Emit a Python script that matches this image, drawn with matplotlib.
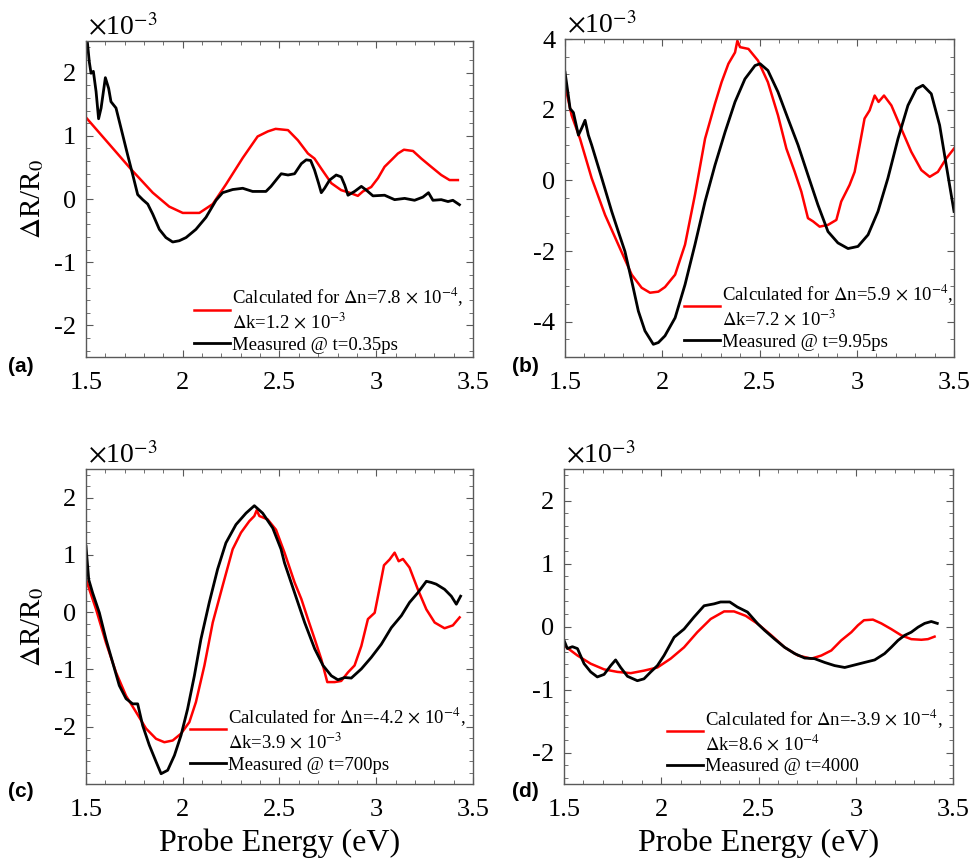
import matplotlib
matplotlib.use("Agg")
import matplotlib.pyplot as plt
from matplotlib.ticker import MultipleLocator, FuncFormatter, FormatStrFormatter
import numpy as np

plt.rcParams["font.family"] = ["Liberation Serif", "DejaVu Serif"]
plt.rcParams["mathtext.fontset"] = "stix"
plt.rcParams["axes.unicode_minus"] = False

# ---- data, dR/R0 in units of 1e-3 ----
a_calc_e = [1.5, 1.733, 1.845, 1.93, 2.0, 2.086, 2.155, 2.223, 2.31, 2.387, 2.44, 2.48, 2.544, 2.595,
            2.647, 2.681, 2.716, 2.768, 2.819, 2.862, 2.905, 2.931, 2.974, 3.009, 3.043, 3.086, 3.112,
            3.143, 3.19, 3.233, 3.284, 3.336, 3.379, 3.422]
a_calc_r = [1.29, 0.47, 0.10, -0.12, -0.22, -0.22, -0.08, 0.23, 0.65, 0.99, 1.07, 1.11, 1.09, 0.93,
            0.72, 0.64, 0.48, 0.25, 0.14, 0.10, 0.05, 0.12, 0.19, 0.33, 0.51, 0.64, 0.72,
            0.78, 0.76, 0.64, 0.51, 0.38, 0.30, 0.30]
a_meas_e = [1.5, 1.517, 1.526, 1.538, 1.552, 1.565, 1.578, 1.60, 1.617, 1.629, 1.655, 1.681, 1.715,
            1.741, 1.767, 1.793, 1.819, 1.845, 1.879, 1.913, 1.948, 1.982, 2.017, 2.068, 2.12, 2.172,
            2.206, 2.258, 2.31, 2.361, 2.43, 2.456, 2.49, 2.509, 2.544, 2.578, 2.613, 2.638, 2.661,
            2.681, 2.702, 2.716, 2.733, 2.759, 2.793, 2.819, 2.837, 2.854, 2.888, 2.923, 2.949, 2.983,
            3.043, 3.095, 3.147, 3.198, 3.241, 3.27, 3.293, 3.336, 3.371, 3.396, 3.43]
a_meas_r = [2.7, 2.17, 1.99, 2.02, 1.70, 1.27, 1.44, 1.92, 1.75, 1.54, 1.44, 1.12, 0.70,
            0.39, 0.07, -0.01, -0.08, -0.24, -0.48, -0.61, -0.68, -0.66, -0.61, -0.48, -0.29, -0.02,
            0.10, 0.15, 0.17, 0.12, 0.12, 0.20, 0.33, 0.40, 0.38, 0.40, 0.56, 0.62, 0.61,
            0.46, 0.25, 0.10, 0.17, 0.30, 0.38, 0.35, 0.22, 0.06, 0.12, 0.20, 0.14, 0.05,
            0.06, -0.01, 0.01, -0.02, 0.03, 0.10, -0.02, -0.01, -0.04, -0.02, -0.09]

b_calc_e = [1.5, 1.534, 1.577, 1.637, 1.706, 1.774, 1.843, 1.894, 1.937, 1.98, 2.014, 2.066, 2.117,
            2.168, 2.22, 2.271, 2.305, 2.34, 2.374, 2.386, 2.40, 2.443, 2.492, 2.543, 2.595, 2.638,
            2.681, 2.715, 2.749, 2.775, 2.809, 2.852, 2.895, 2.92, 2.963, 2.989, 3.015, 3.04, 3.066,
            3.092, 3.112, 3.14, 3.178, 3.229, 3.28, 3.332, 3.375, 3.417, 3.46, 3.5]
b_calc_r = [2.69, 1.84, 1.18, 0.06, -0.98, -1.82, -2.67, -3.04, -3.18, -3.15, -3.02, -2.67, -1.82,
            -0.41, 1.18, 2.17, 2.78, 3.30, 3.62, 3.95, 3.77, 3.72, 3.39, 2.78, 1.84, 0.90,
            0.24, -0.32, -1.07, -1.16, -1.31, -1.26, -1.12, -0.60, -0.13, 0.24, 1.0, 1.75, 1.98,
            2.40, 2.22, 2.40, 2.12, 1.46, 0.81, 0.29, 0.10, 0.24, 0.62, 0.90]
b_meas_e = [1.5, 1.517, 1.526, 1.543, 1.569, 1.586, 1.603, 1.62, 1.637, 1.689, 1.74, 1.774, 1.808,
            1.843, 1.877, 1.911, 1.954, 1.98, 2.014, 2.066, 2.117, 2.168, 2.22, 2.271, 2.323, 2.374,
            2.425, 2.477, 2.503, 2.543, 2.595, 2.646, 2.698, 2.749, 2.80, 2.852, 2.903, 2.955, 3.006,
            3.058, 3.109, 3.16, 3.212, 3.263, 3.306, 3.34, 3.383, 3.426, 3.46, 3.5]
b_meas_r = [3.06, 2.40, 2.03, 1.92, 1.28, 1.48, 1.70, 1.28, 1.0, 0.06, -0.88, -1.45, -2.01,
            -2.85, -3.70, -4.26, -4.64, -4.59, -4.40, -3.89, -2.95, -1.82, -0.60, 0.43, 1.37, 2.22,
            2.87, 3.25, 3.30, 3.11, 2.50, 1.75, 1.0, 0.15, -0.69, -1.45, -1.77, -1.93, -1.87,
            -1.54, -0.88, 0.06, 1.18, 2.12, 2.59, 2.69, 2.45, 1.56, 0.43, -0.88]

c_calc_e = [1.5, 1.552, 1.603, 1.655, 1.707, 1.758, 1.81, 1.862, 1.905, 1.948, 1.991, 2.034, 2.068,
            2.112, 2.155, 2.206, 2.258, 2.301, 2.344, 2.37, 2.382, 2.396, 2.439, 2.482, 2.526, 2.578,
            2.613, 2.647, 2.682, 2.716, 2.747, 2.785, 2.819, 2.854, 2.888, 2.923, 2.957, 2.992, 3.009,
            3.04, 3.069, 3.095, 3.116, 3.138, 3.172, 3.215, 3.259, 3.302, 3.353, 3.396, 3.431]
c_calc_r = [0.57, 0.05, -0.53, -1.05, -1.46, -1.74, -2.03, -2.21, -2.27, -2.24, -2.12, -1.92, -1.57,
            -0.93, -0.18, 0.46, 1.10, 1.39, 1.59, 1.68, 1.78, 1.68, 1.62, 1.44, 1.04, 0.52,
            0.23, -0.12, -0.47, -0.82, -1.22, -1.22, -1.20, -1.05, -0.93, -0.59, -0.12, -0.01, 0.28,
            0.82, 0.92, 1.04, 0.89, 0.93, 0.78, 0.40, 0.05, -0.18, -0.28, -0.23, -0.09]
c_meas_e = [1.5, 1.514, 1.534, 1.569, 1.603, 1.638, 1.672, 1.707, 1.741, 1.767, 1.793, 1.827, 1.862,
            1.888, 1.922, 1.957, 1.991, 2.025, 2.06, 2.094, 2.137, 2.18, 2.223, 2.275, 2.327, 2.37,
            2.413, 2.465, 2.508, 2.526, 2.578, 2.63, 2.682, 2.725, 2.768, 2.802, 2.837, 2.871, 2.923,
            2.974, 3.026, 3.078, 3.13, 3.172, 3.215, 3.259, 3.284, 3.31, 3.353, 3.388, 3.414, 3.436]
c_meas_r = [1.15, 0.57, 0.34, -0.01, -0.47, -0.88, -1.28, -1.51, -1.60, -1.60, -1.98, -2.32, -2.61,
            -2.82, -2.76, -2.50, -2.15, -1.69, -1.11, -0.47, 0.17, 0.75, 1.21, 1.53, 1.73, 1.86,
            1.73, 1.47, 1.10, 0.86, 0.34, -0.18, -0.64, -0.93, -1.11, -1.18, -1.14, -1.15, -0.99,
            -0.79, -0.56, -0.27, -0.06, 0.17, 0.34, 0.54, 0.52, 0.49, 0.40, 0.28, 0.14, 0.28]

d_calc_e = [1.5, 1.569, 1.637, 1.706, 1.774, 1.843, 1.911, 1.98, 2.048, 2.117, 2.185, 2.254, 2.323,
            2.374, 2.434, 2.497, 2.566, 2.634, 2.703, 2.771, 2.823, 2.874, 2.925, 2.977, 3.011, 3.042,
            3.088, 3.131, 3.182, 3.234, 3.285, 3.337, 3.371, 3.405]
d_calc_r = [-0.30, -0.46, -0.59, -0.68, -0.72, -0.74, -0.70, -0.65, -0.51, -0.33, -0.09, 0.12, 0.24,
            0.24, 0.17, 0.04, -0.14, -0.33, -0.46, -0.51, -0.46, -0.38, -0.22, -0.09, 0.02, 0.10,
            0.11, 0.05, -0.04, -0.14, -0.20, -0.21, -0.20, -0.16]
d_meas_e = [1.5, 1.517, 1.543, 1.569, 1.603, 1.637, 1.671, 1.706, 1.74, 1.765, 1.791, 1.826, 1.877,
            1.911, 1.946, 1.98, 2.014, 2.066, 2.117, 2.168, 2.22, 2.271, 2.305, 2.352, 2.391, 2.443,
            2.497, 2.531, 2.583, 2.634, 2.686, 2.737, 2.788, 2.84, 2.891, 2.943, 2.994, 3.045, 3.097,
            3.148, 3.182, 3.217, 3.251, 3.285, 3.32, 3.354, 3.388, 3.419]
d_meas_r = [-0.22, -0.35, -0.32, -0.35, -0.59, -0.72, -0.80, -0.76, -0.62, -0.53, -0.65, -0.79, -0.86,
            -0.83, -0.72, -0.62, -0.46, -0.17, -0.04, 0.15, 0.33, 0.36, 0.39, 0.39, 0.31, 0.23,
            0.04, -0.06, -0.20, -0.33, -0.43, -0.50, -0.51, -0.57, -0.62, -0.65, -0.61, -0.57, -0.53,
            -0.43, -0.33, -0.22, -0.14, -0.09, -0.01, 0.05, 0.08, 0.05]

calc_labels = ["Calculated for $\\Delta$n=7.8$\\,\\times\\,$10$^{-4}$,\n$\\Delta$k=1.2$\\,\\times\\,$10$^{-3}$",
               "Calculated for $\\Delta$n=5.9$\\,\\times\\,$10$^{-4}$,\n$\\Delta$k=7.2$\\,\\times\\,$10$^{-3}$",
               "Calculated for $\\Delta$n=-4.2$\\,\\times\\,$10$^{-4}$,\n$\\Delta$k=3.9$\\,\\times\\,$10$^{-3}$",
               "Calculated for $\\Delta$n=-3.9$\\,\\times\\,$10$^{-4}$,\n$\\Delta$k=8.6$\\,\\times\\,$10$^{-4}$"]
meas_labels = ["Measured @ t=0.35ps", "Measured @ t=9.95ps", "Measured @ t=700ps", "Measured @ t=4000"]
panel_tags = ["(a)", "(b)", "(c)", "(d)"]
ylims = [(-2.5, 2.5), (-5, 4), (-3, 2.5), (-2.5, 2.5)]
yticks = [[-2, -1, 0, 1, 2], [-4, -2, 0, 2, 4], [-2, -1, 0, 1, 2], [-2, -1, 0, 1, 2]]
yminor = [0.2, 0.5, 0.2, 0.2]

series = [(a_calc_e, a_calc_r, a_meas_e, a_meas_r),
          (b_calc_e, b_calc_r, b_meas_e, b_meas_r),
          (c_calc_e, c_calc_r, c_meas_e, c_meas_r),
          (d_calc_e, d_calc_r, d_meas_e, d_meas_r)]

fig = plt.figure(figsize=(9.73, 8.67), dpi=100)
rects = [[0.0884, 0.5882, 0.3977, 0.3645],
         [0.5807, 0.5882, 0.3998, 0.3668],
         [0.0884, 0.0957, 0.3977, 0.3633],
         [0.5797, 0.0957, 0.3998, 0.3633]]
legend_anchor = [(0.279, 0.010), (0.306, 0.020), (0.269, 0.033), (0.265, 0.028)]
tag_pos = [(0.008, 0.577), (0.526, 0.577), (0.008, 0.087), (0.526, 0.087)]

for i, (ce, cr, me, mr) in enumerate(series):
    ax = fig.add_axes(rects[i])
    ax.plot(ce, np.array(cr) * 1e-3, color="#ff0000", lw=1.8, label=calc_labels[i])
    ax.plot(me, np.array(mr) * 1e-3, color="black", lw=2.0, label=meas_labels[i])
    ax.set_xlim(1.5, 3.5)
    ax.set_ylim(ylims[i][0] * 1e-3, ylims[i][1] * 1e-3)
    ax.set_xticks([1.5, 2, 2.5, 3, 3.5])
    ax.set_yticks(np.array(yticks[i]) * 1e-3)
    ax.xaxis.set_minor_locator(MultipleLocator(0.1))
    ax.yaxis.set_minor_locator(MultipleLocator(yminor[i] * 1e-3))
    ax.xaxis.set_major_formatter(FormatStrFormatter("%g"))
    ax.yaxis.set_major_formatter(FuncFormatter(lambda v, p: f"{v * 1e3:g}"))
    ax.text(0.005, 0.998, "$\\times$10$^{-3}$", transform=ax.transAxes, fontsize=20,
            ha="left", va="bottom")
    ax.tick_params(which="both", direction="in", top=True, right=True, colors="0.35",
                   labelcolor="black", labelsize=19)
    ax.tick_params(which="major", length=5)
    ax.tick_params(which="minor", length=3)
    ax.tick_params(axis="x", which="major", pad=11)
    ax.tick_params(axis="y", which="major", pad=7)
    for s in ax.spines.values():
        s.set_color("0.35")
        s.set_linewidth(1.0)
    if i % 2 == 0:
        ax.set_ylabel("$\\Delta$R/R$_0$", fontsize=21, labelpad=6)
    if i >= 2:
        ax.set_xlabel("Probe Energy (eV)", fontsize=23, labelpad=5)
    ax.legend(loc="lower left", bbox_to_anchor=legend_anchor[i], frameon=False, fontsize=13.5,
              handlelength=1.9, handletextpad=0.12, labelspacing=0.2, borderpad=0.0,
              borderaxespad=0.0)
    fig.text(tag_pos[i][0], tag_pos[i][1], panel_tags[i], fontsize=15, fontweight="bold",
             family="Liberation Sans", va="center")

fig.savefig("out.png", dpi=100)
